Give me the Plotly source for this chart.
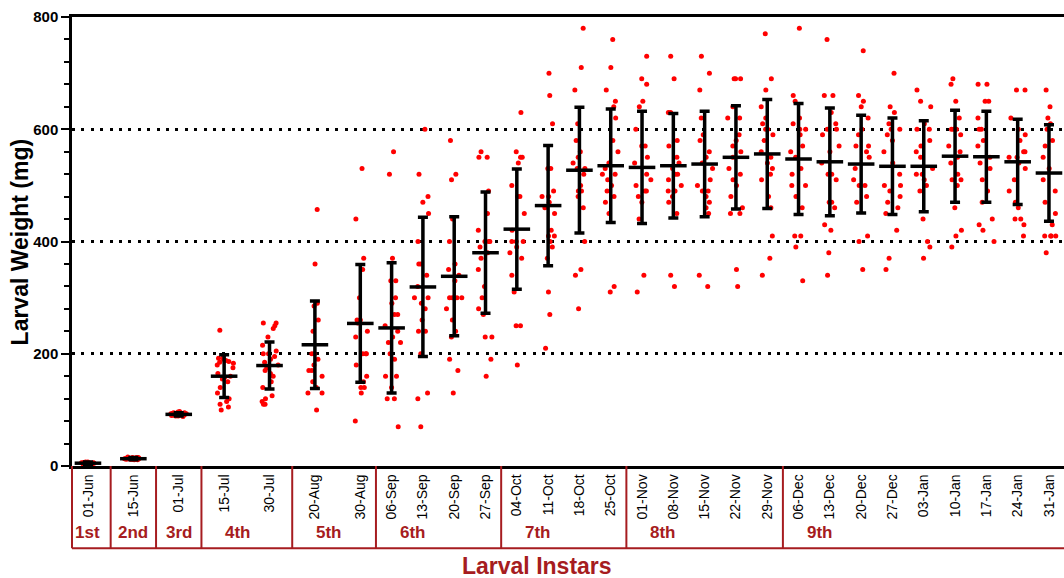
import plotly.graph_objects as go

# ---------------- data ----------------
dates = ["01-Jun", "15-Jun", "01-Jul", "15-Jul", "30-Jul", "20-Aug", "30-Aug",
         "06-Sep", "13-Sep", "20-Sep", "27-Sep", "04-Oct", "11-Oct", "18-Oct",
         "25-Oct", "01-Nov", "08-Nov", "15-Nov", "22-Nov", "29-Nov", "06-Dec",
         "13-Dec", "20-Dec", "27-Dec", "03-Jan", "10-Jan", "17-Jan", "24-Jan",
         "31-Jan"]

instar_labels = ["1st", "2nd", "3rd", "4th", "5th", "6th", "7th", "8th", "9th"]
instar_sizes = [1, 1, 1, 2, 2, 4, 4, 5, 9]

w_01jun = [3, 4, 4, 5, 5, 5, 6, 6, 7, 5, 4, 6, 5, 3, 6, 5, 4, 7, 5, 6]
w_15jun = [11, 12, 13, 13, 14, 15, 12, 14, 13, 16, 12, 13, 15, 14, 11, 13, 14, 12, 15, 13]
w_01jul = [88, 89, 90, 91, 92, 92, 93, 94, 95, 96, 90, 91, 93, 94, 92, 89, 95, 97, 91, 93]
w_15jul = [242, 195, 192, 190, 188, 186, 185, 183, 180, 175, 165, 160, 158, 155, 150, 140, 130, 120, 115, 110, 105, 100]
w_30jul = [255, 255, 250, 245, 230, 215, 205, 200, 200, 195, 190, 185, 180, 175, 170, 165, 160, 150, 140, 125, 120, 115, 110, 110]
w_20aug = [457, 360, 290, 285, 260, 240, 200, 200, 190, 180, 170, 170, 160, 150, 140, 130, 130, 100]
w_30aug = [530, 440, 370, 350, 300, 260, 260, 255, 240, 230, 200, 200, 200, 180, 160, 150, 140, 140, 130, 80]
w_06sep = [560, 520, 370, 330, 330, 300, 290, 270, 270, 250, 240, 230, 220, 220, 200, 190, 160, 160, 140, 120, 120, 70]
w_13sep = [600, 520, 480, 470, 450, 400, 360, 360, 340, 320, 300, 300, 290, 280, 260, 240, 240, 200, 130, 120, 70]
w_20sep = [580, 520, 510, 440, 400, 360, 350, 340, 330, 300, 300, 300, 300, 280, 260, 240, 230, 190, 170, 130]
w_27sep = [560, 550, 550, 490, 450, 420, 400, 400, 400, 390, 380, 370, 350, 320, 300, 280, 270, 230, 230, 190, 160]
w_04oct = [630, 560, 550, 550, 540, 500, 480, 480, 450, 420, 400, 400, 400, 390, 380, 370, 340, 310, 250, 250, 180]
w_11oct = [700, 660, 610, 530, 530, 490, 480, 480, 470, 460, 450, 420, 410, 410, 400, 390, 370, 310, 270, 210]
w_18oct = [780, 710, 670, 610, 580, 560, 550, 540, 530, 530, 520, 500, 490, 490, 480, 460, 400, 350, 340, 280]
w_25oct = [760, 710, 670, 650, 640, 620, 580, 560, 540, 530, 520, 520, 510, 500, 490, 480, 470, 450, 320, 310]
w_01nov = [730, 690, 680, 650, 640, 600, 570, 570, 550, 540, 520, 510, 500, 490, 490, 480, 470, 440, 340, 310]
w_08nov = [730, 690, 630, 630, 580, 570, 550, 540, 530, 520, 520, 510, 500, 490, 490, 490, 480, 470, 450, 340, 320]
w_15nov = [730, 700, 670, 620, 590, 580, 560, 550, 540, 530, 510, 500, 490, 490, 480, 470, 460, 450, 340, 320]
w_22nov = [690, 690, 690, 640, 620, 620, 590, 580, 570, 560, 550, 530, 520, 510, 500, 480, 460, 450, 450, 350, 320]
w_29nov = [770, 690, 670, 640, 620, 610, 600, 600, 590, 580, 560, 550, 540, 530, 520, 510, 480, 460, 410, 370, 340]
w_06dec = [780, 660, 650, 620, 610, 600, 600, 590, 570, 560, 550, 530, 520, 500, 500, 480, 460, 410, 410, 390, 330]
w_13dec = [760, 660, 660, 630, 610, 600, 600, 590, 570, 560, 540, 520, 520, 510, 470, 470, 460, 430, 420, 380, 340]
w_20dec = [740, 660, 650, 640, 620, 600, 590, 570, 570, 560, 550, 530, 510, 500, 500, 480, 470, 410, 400, 350]
w_27dec = [700, 640, 630, 610, 600, 600, 590, 580, 560, 540, 520, 500, 500, 490, 480, 470, 460, 450, 420, 370, 350]
w_03jan = [670, 650, 640, 610, 600, 600, 580, 570, 560, 550, 530, 520, 520, 510, 500, 490, 440, 400, 390, 370]
w_10jan = [690, 680, 650, 620, 600, 600, 600, 590, 570, 560, 550, 540, 520, 510, 510, 500, 460, 420, 410, 390]
w_17jan = [680, 680, 650, 650, 620, 600, 600, 580, 570, 550, 540, 530, 510, 490, 470, 440, 430, 420, 400]
w_24jan = [670, 670, 620, 600, 590, 580, 560, 560, 550, 550, 540, 530, 510, 490, 470, 460, 440, 440, 430, 410]
w_31jan = [670, 640, 620, 610, 600, 580, 570, 550, 530, 510, 490, 470, 450, 430, 410, 410, 410, 410, 380]

samples = [w_01jun, w_15jun, w_01jul, w_15jul, w_30jul, w_20aug, w_30aug,
           w_06sep, w_13sep, w_20sep, w_27sep, w_04oct, w_11oct, w_18oct,
           w_25oct, w_01nov, w_08nov, w_15nov, w_22nov, w_29nov, w_06dec,
           w_13dec, w_20dec, w_27dec, w_03jan, w_10jan, w_17jan, w_24jan,
           w_31jan]

mean_wt = [5, 13, 92, 160, 179, 216, 254, 246, 319, 338, 380, 422, 464, 527,
           535, 532, 535, 538, 550, 556, 547, 542, 538, 534, 534, 552, 551, 542, 522]
sd_wt = [2, 2, 3, 38, 42, 78, 105, 116, 124, 106, 108, 107, 107, 112,
         101, 100, 93, 94, 92, 97, 99, 96, 87, 86, 81, 82, 81, 76, 86]

y_ticks = [0, 200, 400, 600, 800]

# ---------------- layout helpers ----------------
DARK_RED = "#A61C20"
FONT = "Liberation Sans"
WIDE_STEP = 1.45      # column spacing used for instars 1-5
NARROW_STEP = 1.0     # column spacing for later instars
wide_count = sum(instar_sizes[:5])

pos = []
p = 0.0
for i in range(len(dates)):
    if i > 0:
        p += WIDE_STEP if i < wide_count else NARROW_STEP
    pos.append(p)

x_lo = pos[0] - 0.51
x_hi = pos[-1] + 0.48

fig = go.Figure()

# individual larvae (scatter with jitter)
bx, by = [], []
for xp, s in zip(pos, samples):
    bx += [xp] * len(s)
    by += s
fig.add_trace(go.Box(
    x=bx, y=by, boxpoints="all", jitter=1, pointpos=0, width=0.6,
    fillcolor="rgba(0,0,0,0)", line=dict(color="rgba(0,0,0,0)", width=0),
    marker=dict(color="#FF0000", size=5), showlegend=False, hoverinfo="y"))

# mean +/- SD
fig.add_trace(go.Scatter(
    x=pos, y=mean_wt, mode="markers",
    marker=dict(symbol="line-ew", size=19, color="black",
                line=dict(width=3.5, color="black")),
    error_y=dict(type="data", array=sd_wt, visible=True, color="black",
                 thickness=3.5, width=5),
    showlegend=False, cliponaxis=False))

# instar brackets below the axis
BR_BOTTOM = -0.183
shapes = []
shapes.append(dict(type="line", xref="paper", yref="paper", x0=0, x1=0,
                   y0=0, y1=BR_BOTTOM, line=dict(color=DARK_RED, width=2)))
shapes.append(dict(type="line", xref="paper", yref="paper", x0=0, x1=1,
                   y0=BR_BOTTOM, y1=BR_BOTTOM, line=dict(color=DARK_RED, width=2)))
annotations = []
start = 0
for k, n in enumerate(instar_sizes):
    left = x_lo if start == 0 else (pos[start - 1] + pos[start]) / 2
    if start > 0:
        shapes.append(dict(type="line", xref="x", yref="paper", x0=left, x1=left,
                           y0=0, y1=BR_BOTTOM, line=dict(color=DARK_RED, width=2)))
    if n == 1:
        annotations.append(dict(x=pos[start], xref="x", y=-0.149, yref="paper",
                                text="<b>%s</b>" % instar_labels[k], showarrow=False,
                                xanchor="center", yanchor="middle",
                                font=dict(family=FONT, size=17, color=DARK_RED)))
    else:
        annotations.append(dict(x=left, xref="x", y=-0.149, yref="paper",
                                text="<b>%s</b>" % instar_labels[k], showarrow=False,
                                xanchor="left", yanchor="middle", xshift=22,
                                font=dict(family=FONT, size=17, color=DARK_RED)))
    start += n

annotations.append(dict(x=0.469, xref="paper", y=-0.222, yref="paper",
                        text="<b>Larval Instars</b>", showarrow=False,
                        xanchor="center", yanchor="middle",
                        font=dict(family=FONT, size=23, color=DARK_RED)))
annotations.append(dict(x=-0.0525, xref="paper", y=0.5, yref="paper",
                        text="<b>Larval Weight (mg)</b>", showarrow=False,
                        textangle=-90, xanchor="center", yanchor="middle",
                        font=dict(family=FONT, size=23, color="black")))

fig.update_layout(
    width=1064, height=578,
    margin=dict(l=72, r=0, t=17, b=112),
    paper_bgcolor="white", plot_bgcolor="white",
    font=dict(family=FONT, color="black"),
    shapes=shapes, annotations=annotations,
    xaxis=dict(range=[x_lo, x_hi], tickvals=pos, ticktext=dates, tickangle=-90,
               ticks="", showgrid=False, zeroline=False, showline=True,
               linecolor="black", linewidth=2.5, mirror=True,
               tickfont=dict(family=FONT, size=14, color="black")),
    yaxis=dict(range=[0, 800], tickvals=y_ticks, ticks="outside", ticklen=8,
               tickwidth=2, tickcolor="black", showline=True, linecolor="black",
               linewidth=2.5, zeroline=False,
               showgrid=True, gridcolor="black", gridwidth=3, griddash="3px,6.4px",
               minor=dict(dtick=40, ticks="outside", ticklen=5, tickwidth=2,
                          tickcolor="black", showgrid=False),
               tickfont=dict(family=FONT, size=15, color="black", weight="bold")),
)

fig.write_html("out.html")
